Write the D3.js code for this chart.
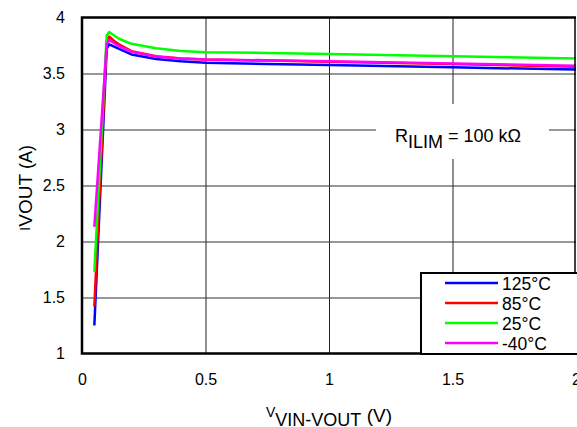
<!DOCTYPE html>
<html>
<head>
<meta charset="utf-8">
<script src="https://cdn.jsdelivr.net/npm/d3@7/dist/d3.min.js"></script>
<style>
  html, body { margin: 0; padding: 0; background: #fff; }
  svg { display: block; font-family: "Liberation Sans", Arial, sans-serif; }
</style>
</head>
<body>
<svg id="chart" width="577" height="427"></svg>
<script>
// Output current limit vs. headroom voltage, four temperatures
const xTicks = [0, 0.5, 1, 1.5, 2];
const yTicks = [1, 1.5, 2, 2.5, 3, 3.5, 4];
const seriesNames = ["125°C", "85°C", "25°C", "-40°C"];
const seriesColors = ["#0000ff", "#ff0000", "#00ff00", "#ff00ff"];

const vHead = [0.05, 0.1, 0.11, 0.13, 0.15, 0.2, 0.3, 0.4, 0.5, 0.75, 1.0, 1.5, 2.0];
const i125 = [1.25, 3.72, 3.76, 3.74, 3.72, 3.67, 3.63, 3.61, 3.595, 3.585, 3.575, 3.555, 3.535];
const i85  = [1.42, 3.79, 3.83, 3.79, 3.76, 3.70, 3.655, 3.635, 3.625, 3.615, 3.605, 3.585, 3.56];
const i25  = [1.73, 3.84, 3.87, 3.84, 3.81, 3.765, 3.725, 3.70, 3.69, 3.683, 3.675, 3.655, 3.635];
const iN40 = [2.13, 3.76, 3.80, 3.77, 3.745, 3.695, 3.65, 3.635, 3.625, 3.618, 3.61, 3.59, 3.57];
const seriesValues = [i125, i85, i25, iN40];

const svg = d3.select("#chart");
const plotL = 82, plotR = 576, plotT = 17.5, plotB = 353.5;

const x = d3.scaleLinear().domain([0, 2]).range([plotL, plotR]);
const y = d3.scaleLinear().domain([1, 4]).range([plotB, plotT]);

// grid
svg.append("g")
  .attr("transform", `translate(0,${plotB})`)
  .call(d3.axisBottom(x).tickValues(xTicks.slice(1, -1)).tickSize(-(plotB - plotT)).tickFormat(""))
  .call(g => g.select(".domain").remove())
  .call(g => g.selectAll("line").attr("stroke", "#222").attr("stroke-width", 1));
svg.append("g")
  .attr("transform", `translate(${plotL},0)`)
  .call(d3.axisLeft(y).tickValues(yTicks.slice(1, -1)).tickSize(-(plotR - plotL)).tickFormat(""))
  .call(g => g.select(".domain").remove())
  .call(g => g.selectAll("line").attr("stroke", "#333").attr("stroke-width", 1.2));

// tick labels
svg.append("g")
  .attr("transform", `translate(0,${plotB})`)
  .call(d3.axisBottom(x).tickValues(xTicks).tickSize(0).tickPadding(20).tickFormat(d3.format("")))
  .call(g => g.select(".domain").remove())
  .call(g => g.selectAll("text").attr("font-size", 16).attr("fill", "#000")
    .attr("font-family", "'Liberation Sans', Arial, sans-serif"));
svg.append("g")
  .attr("transform", `translate(${plotL},0)`)
  .call(d3.axisLeft(y).tickValues(yTicks).tickSize(0).tickPadding(17).tickFormat(d3.format("")))
  .call(g => g.select(".domain").remove())
  .call(g => g.selectAll("text").attr("font-size", 16).attr("fill", "#000")
    .attr("font-family", "'Liberation Sans', Arial, sans-serif"));

// annotation backdrop
svg.append("rect").attr("x", 376).attr("y", 104).attr("width", 173).attr("height", 55).attr("fill", "#fff");
const ann = svg.append("text").attr("x", 395).attr("y", 142).attr("fill", "#000");
ann.append("tspan").attr("font-size", 18).text("R");
ann.append("tspan").attr("font-size", 18).attr("dy", 6).text("ILIM");
ann.append("tspan").attr("font-size", 18).attr("dy", -6).text(" = 100 kΩ");

// curves
const line = d3.line().x(d => x(d[0])).y(d => y(d[1]));
seriesValues.forEach((vals, k) => {
  svg.append("path")
    .datum(vHead.map((v, j) => [v, vals[j]]))
    .attr("d", line)
    .attr("fill", "none")
    .attr("stroke", seriesColors[k])
    .attr("stroke-width", 2.5)
    .attr("stroke-linejoin", "round");
});

// frame
svg.append("path")
  .attr("d", `M${plotR},${plotT}H${plotL}V${plotB}H${plotR}`)
  .attr("fill", "none").attr("stroke", "#000").attr("stroke-width", 2.5);
svg.append("line").attr("x1", plotR - 1).attr("x2", plotR - 1).attr("y1", plotT).attr("y2", plotB)
  .attr("stroke", "#000").attr("stroke-width", 1.5);

// legend
const lg = svg.append("g");
lg.append("rect").attr("x", 421).attr("y", 273).attr("width", 170).attr("height", 81)
  .attr("fill", "#fff").attr("stroke", "#000").attr("stroke-width", 2);
seriesNames.forEach((name, k) => {
  const ly = 283 + k * 20;
  lg.append("line").attr("x1", 445).attr("x2", 498).attr("y1", ly).attr("y2", ly)
    .attr("stroke", seriesColors[k]).attr("stroke-width", 2.5);
  lg.append("text").attr("x", 502).attr("y", ly + 6.5).attr("font-size", 17.5).attr("fill", "#000").text(name);
});

// axis titles
const xt = svg.append("text").attr("x", 329).attr("y", 417).attr("text-anchor", "middle").attr("fill", "#000");
xt.append("tspan").attr("font-size", 14).text("V");
xt.append("tspan").attr("font-size", 18).attr("dy", 9).text("VIN-VOUT");
xt.append("tspan").attr("font-size", 19).attr("dy", -4).text(" (V)");

const yt = svg.append("text").attr("transform", "translate(30,188) rotate(-90)")
  .attr("text-anchor", "middle").attr("fill", "#000");
yt.append("tspan").attr("font-size", 15).text("I");
yt.append("tspan").attr("font-size", 19).attr("dy", 2).text("VOUT");
yt.append("tspan").attr("font-size", 18).attr("dy", 0).text(" (A)");
</script>
</body>
</html>
